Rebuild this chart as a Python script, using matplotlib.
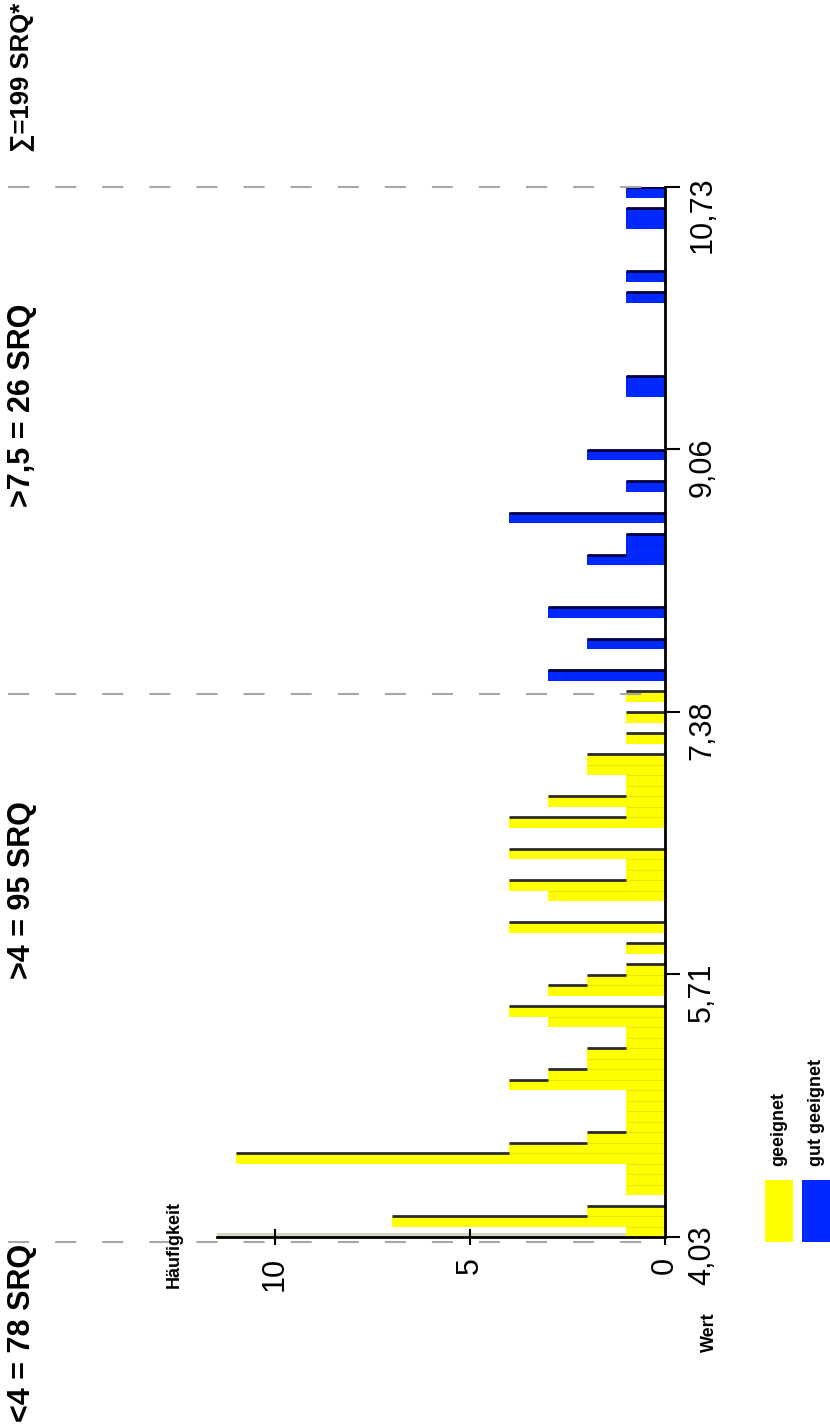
import matplotlib.pyplot as plt
from matplotlib.patches import Rectangle

# --- Daten (Histogramm, Klassenbreite 0,067) ---
WERT_START = 4.03
KLASSENBREITE = 0.067
geeignet = [1, 7, 2, 0, 1, 1, 1, 11, 4, 2, 1, 1, 1, 1, 4, 3, 2, 2, 1, 1,
            3, 4, 0, 3, 2, 1, 0, 1, 0, 4, 0, 0, 3, 4, 1, 1, 4, 0, 0, 4,
            1, 3, 1, 1, 2, 2, 0, 1, 0, 1, 0, 1]
gut_geeignet = [0, 3, 0, 0, 2, 0, 0, 3, 0, 0, 0, 0, 2, 1, 1, 0, 4, 0, 0, 1,
                0, 0, 2, 0, 0, 0, 0, 0, 1, 1, 0, 0, 0, 0, 0, 0, 0, 1, 0, 1,
                0, 0, 0, 0, 1, 1, 0, 1]
wert_ticks = [4.03, 5.71, 7.38, 9.06, 10.73]
wert_labels = ['4,03', '5,71', '7,38', '9,06', '10,73']
haeufigkeit_ticks = [0, 5, 10]
grenzen = [4.0, 7.5, 10.73]
bereich_texte = ['<4 = 78 SRQ', '>4 = 95 SRQ', '>7,5 = 26 SRQ']
summe_text = '\u2211=199 SRQ*'
legende = ['geeignet', 'gut geeignet']

COLORS = {
    'gelb': '#FFFF00',
    'blau': '#0028FF',
    'kante_gelb': '#2b2b2b',
    'kante_blau': '#000040',
    'grenze': '#a6a6a6',
}

plt.rcParams['font.family'] = ['Liberation Sans', 'DejaVu Sans']

W, H = 830, 1427
fig = plt.figure(figsize=(W / 100, H / 100), dpi=100)
fig.patch.set_facecolor('white')


def fx(px):
    return px / W


def fy(py):
    return 1 - py / H


# axes: Wert vertical (rotated chart), Häufigkeit grows to the left
x0, x1 = 216.5, 665
y_top, y_bot = 187.4, 1237.3
ax = fig.add_axes([fx(x0), fy(y_bot), (x1 - x0) / W, (y_bot - y_top) / H])
ax.set_xlim(11.5, 0)
ax.set_ylim(4.03, 10.73)
ax.set_facecolor('none')
px_per_f = (x1 - x0) / 11.5
px_per_w = (y_bot - y_top) / 6.7

counts = geeignet + gut_geeignet
n_gelb = len(geeignet)
edges = [WERT_START + i * KLASSENBREITE for i in range(len(counts))]

# faint shadow along the frequency axis
ax.add_patch(Rectangle((0, 4.03), 11.5, 4 / px_per_w, color='#d6d6c4', lw=0, zorder=1))

ax.barh(edges[:n_gelb], geeignet, height=KLASSENBREITE, align='edge',
        color=COLORS['gelb'], lw=0, zorder=2)
ax.barh(edges[n_gelb:], gut_geeignet, height=KLASSENBREITE, align='edge',
        color=COLORS['blau'], lw=0, zorder=2)

# dark step edges at the upper side of each class
for i, h in enumerate(counts):
    if h == 0:
        continue
    oben = edges[i] + KLASSENBREITE
    naechste = counts[i + 1] if i + 1 < len(counts) else 0
    dunkel = COLORS['kante_gelb'] if i < n_gelb else COLORS['kante_blau']
    if h > naechste:
        ax.hlines(oben, naechste, h, color=dunkel, lw=2, zorder=3)
    if naechste > 0:
        ax.hlines(oben, 0, min(h, naechste), color=dunkel, lw=0.5, alpha=0.15, zorder=3)

# dashed class borders
f_links = x1 / px_per_f
f_ende = (x1 - 648) / px_per_f
for g in grenzen:
    ax.plot([f_links, f_ende], [g, g], color=COLORS['grenze'], lw=1.5,
            ls=(18.7, (10.1, 12.5)), clip_on=False, zorder=4)

# spines / ticks
for s in ['left', 'top']:
    ax.spines[s].set_visible(False)
ax.spines['right'].set_linewidth(2)
ax.spines['bottom'].set_linewidth(2)
ax.spines['right'].set_zorder(5)
ax.spines['bottom'].set_zorder(5)

ax.yaxis.tick_right()
ax.set_yticks(wert_ticks, wert_labels)
ax.tick_params(axis='y', direction='out', length=11, width=1.5, labelsize=22,
               labelrotation=90, pad=5)
ax.set_xticks(haeufigkeit_ticks, [str(t) for t in haeufigkeit_ticks])
ax.tick_params(axis='x', direction='inout', length=12, width=1.5, labelsize=22,
               labelrotation=90, pad=8)

# axis titles
fig.text(fx(174), fy(1244), 'Häufigkeit', rotation=90, ha='center', va='center',
         fontsize=13, weight='bold')
fig.text(fx(709), fy(1332), 'Wert', rotation=90, ha='center', va='center',
         fontsize=13, weight='bold')

# class texts
for txt, ypx in zip(bereich_texte, [1333, 890, 405]):
    fig.text(fx(22), fy(ypx), txt, rotation=90, ha='center', va='center',
             fontsize=22, weight='bold')
fig.text(fx(22), fy(152), summe_text, rotation=90, ha='center', va='bottom',
         fontsize=18.5, weight='bold')

# legend
for (xl, farbe), label in zip([(765, COLORS['gelb']), (802, COLORS['blau'])], legende):
    fig.patches.append(Rectangle((fx(xl), fy(1242)), 28 / W, 62 / H,
                                 transform=fig.transFigure, color=farbe, lw=0))
    fig.text(fx(xl + 14), fy(1166), label, rotation=90, ha='center', va='bottom',
             fontsize=13, weight='bold')

fig.savefig('out.png', dpi=100, facecolor='white')
